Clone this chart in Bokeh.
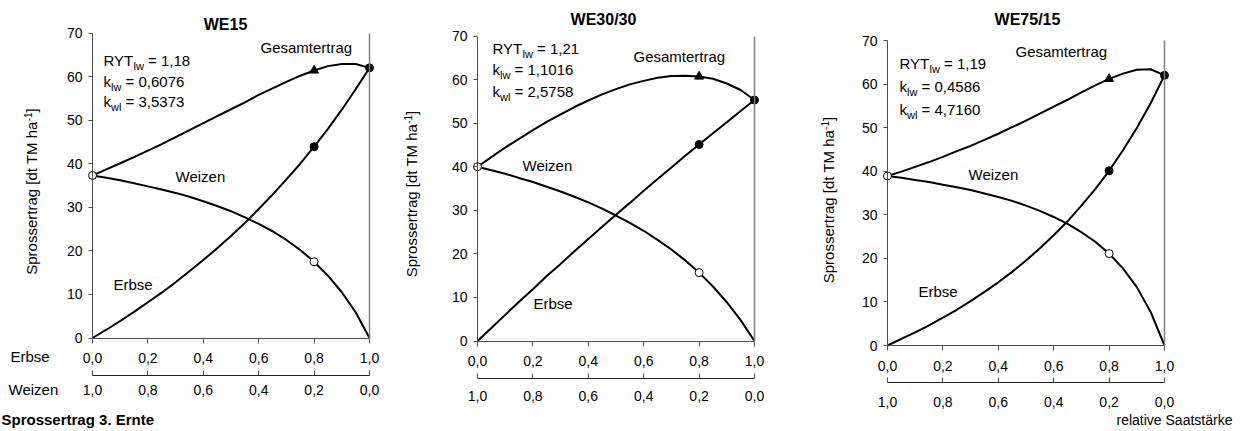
import math
from bokeh.plotting import figure
from bokeh.layouts import row
from bokeh.models import Range1d, LinearAxis, FixedTicker, CustomJSTickFormatter, Label
from bokeh.embed import file_html
from bokeh.resources import INLINE

# ---------------- data ----------------
saat_erbse = [0.0, 0.05, 0.1, 0.15, 0.2, 0.25, 0.3, 0.35, 0.4, 0.45, 0.5,
              0.55, 0.6, 0.65, 0.7, 0.75, 0.8, 0.85, 0.9, 0.95, 1.0]
x_tick_values = [0.0, 0.2, 0.4, 0.6, 0.8, 1.0]
y_tick_values = [0, 10, 20, 30, 40, 50, 60, 70]

we15_erbse = [0.0, 1.9, 3.9, 6.0, 8.2, 10.4, 12.8, 15.3, 17.9, 20.6, 23.4,
              26.4, 29.6, 32.9, 36.4, 40.0, 43.9, 48.0, 52.4, 57.1, 62.0]
we15_weizen = [37.3, 36.8, 36.2, 35.5, 34.8, 34.1, 33.3, 32.4, 31.4, 30.3, 29.1,
               27.7, 26.2, 24.5, 22.5, 20.2, 17.5, 14.3, 10.5, 5.9, 0.0]
we15_gesamt = [37.3, 38.7, 40.1, 41.5, 43.0, 44.5, 46.1, 47.7, 49.3, 50.9, 52.5,
               54.1, 55.8, 57.3, 58.8, 60.2, 61.4, 62.4, 62.9, 62.9, 62.0]

we3030_erbse = [0.0, 3.0, 6.0, 9.0, 11.9, 14.9, 17.7, 20.6, 23.4, 26.2, 29.0,
                31.7, 34.5, 37.2, 39.8, 42.5, 45.1, 47.7, 50.2, 52.8, 55.3]
we3030_weizen = [40.0, 39.2, 38.4, 37.4, 36.5, 35.4, 34.3, 33.1, 31.8, 30.4, 28.8,
                 27.1, 25.3, 23.2, 21.0, 18.5, 15.7, 12.5, 8.9, 4.8, 0.0]
we3030_gesamt = [40.0, 42.2, 44.4, 46.4, 48.4, 50.3, 52.0, 53.7, 55.2, 56.6, 57.8,
                 58.9, 59.7, 60.4, 60.8, 60.9, 60.7, 60.2, 59.1, 57.6, 55.3]

we7515_erbse = [0.0, 1.5, 3.0, 4.6, 6.4, 8.2, 10.2, 12.3, 14.5, 16.9, 19.5,
                22.3, 25.3, 28.5, 32.1, 35.9, 40.1, 44.8, 49.9, 55.6, 62.0]
we7515_weizen = [38.9, 38.5, 38.0, 37.5, 36.9, 36.3, 35.7, 34.9, 34.1, 33.2, 32.1,
                 30.9, 29.5, 27.9, 26.0, 23.8, 21.1, 17.7, 13.4, 7.7, 0.0]
we7515_gesamt = [38.9, 39.9, 41.0, 42.1, 43.3, 44.6, 45.8, 47.2, 48.6, 50.1, 51.6,
                 53.2, 54.8, 56.4, 58.1, 59.7, 61.2, 62.4, 63.3, 63.4, 62.0]

panel_titles = ["WE15", "WE30/30", "WE75/15"]
ryt_values = ["1,18", "1,21", "1,19"]
k_lw_values = ["0,6076", "1,1016", "0,4586"]
k_wl_values = ["3,5373", "2,5758", "4,7160"]

# indices of the measured points (marked with symbols)
weizen_points = [0, 16]
erbse_points = [16, 20]
gesamt_points = [16]

# ---------------- styling / layout ----------------
FONT = "Liberation Sans"
H = 431
SX = 277.0          # px per unit of relative seed rate
SY = 305.0 / 70.0   # px per dt/ha
GAP2 = 37.0         # px between the two x axes
AXC = "#4d4d4d"
BL = 0.4            # empirical baseline correction (fraction of font size)

ARIAL = {' ': 278, '=': 584, ',': 278, '.': 278, '-': 333, 'R': 722, 'Y': 667, 'T': 611,
         'k': 500, 'l': 222, 'w': 722, 'S': 667, 'p': 556, 'r': 333, 'o': 556, 's': 500,
         'e': 556, 't': 278, 'a': 556, 'g': 556, '[': 278, ']': 278, 'd': 556, 'M': 833,
         'h': 556}


def tw(s, size):
    return sum(ARIAL.get(c, 556) for c in s) / 1000.0 * size


def lab(p, geo, gx, gy, text, size, bold=False, align="left", angle=0.0):
    x0, y0 = geo
    if angle == 0.0:
        gy = gy - BL * size
    else:
        gx = gx - BL * size
    p.add_layout(Label(x=(gx - x0) / SX, y=(y0 - gy) / SY, text=text, text_font=FONT,
                       text_font_size=f"{size}px", text_font_style="bold" if bold else "normal",
                       text_align=align, text_baseline="alphabetic", angle=angle,
                       text_color="black"))


def sub_text(p, geo, gx, gy, main, sub, rest, size=15, subsize=11):
    lab(p, geo, gx, gy, main, size)
    w1 = tw(main, size)
    lab(p, geo, gx + w1, gy + 4, sub, subsize)
    w2 = tw(sub, subsize)
    lab(p, geo, gx + w1 + w2 + tw(" ", size), gy, rest, size)


def y_title(p, geo, cx, cy, size=15, supsize=10):
    main, sup, close = "Sprossertrag [dt TM ha", "-1", "]"
    wm, ws, wc = tw(main, size), tw(sup, supsize), tw(close, size)
    total = wm + ws + wc
    xb = cx + 0.716 * size / 2
    ys = cy + total / 2
    lab(p, geo, xb, ys, main, size, angle=math.pi / 2)
    lab(p, geo, xb - 6, ys - wm, sup, supsize, angle=math.pi / 2)
    lab(p, geo, xb, ys - wm - ws, close, size, angle=math.pi / 2)


fmt_code = "return tick.toFixed(1).replace('.', ',');"


def style_axis(ax, tick_out, tick_in, standoff, line_color=AXC):
    ax.axis_line_color = line_color
    ax.axis_line_width = 1
    ax.major_tick_line_color = AXC
    ax.major_tick_out = tick_out
    ax.major_tick_in = tick_in
    ax.minor_tick_out = 0
    ax.minor_tick_in = 0
    ax.major_label_text_font = FONT
    ax.major_label_text_font_size = "14px"
    ax.major_label_text_color = "black"
    ax.major_label_standoff = standoff


def make_panel(i, erbse, weizen, gesamt, fig_left, fig_width, x0px, y0px, txt, std2):
    # x0px / y0px: page pixel of the data origin (x=0, y=0)
    lx = x0px - fig_left
    x_start = -lx / SX
    x_end = (fig_width - lx) / SX
    y_start = -(H - y0px) / SY
    y_end = y0px / SY
    geo = (x0px, y0px)
    p = figure(frame_width=fig_width, frame_height=H,
               x_range=Range1d(x_start, x_end), y_range=Range1d(y_start, y_end),
               x_axis_type=None, y_axis_type=None,
               output_backend="svg", toolbar_location=None,
               min_border=0, min_border_left=0, min_border_right=0,
               min_border_top=0, min_border_bottom=0)
    p.outline_line_color = None
    p.background_fill_color = "white"
    p.border_fill_color = "white"
    p.extra_x_ranges = {"w": Range1d(1 - x_start, 1 - x_end)}

    yax = LinearAxis(ticker=FixedTicker(ticks=y_tick_values), fixed_location=0, bounds=(0, 70))
    style_axis(yax, 4, 0, 6)
    p.add_layout(yax, "left")

    # vertical frame line at x = 1 (axis without ticks)
    rax = LinearAxis(ticker=FixedTicker(ticks=[]), fixed_location=1, bounds=(0, 70))
    style_axis(rax, 0, 0, 0, line_color="#808080")
    rax.axis_line_width = 1.5
    rax.major_label_text_font_size = "0px"
    p.add_layout(rax, "right")

    xax = LinearAxis(ticker=FixedTicker(ticks=x_tick_values),
                     formatter=CustomJSTickFormatter(code=fmt_code), bounds=(0, 1),
                     fixed_location=0)
    style_axis(xax, 5, 0, 10)
    p.add_layout(xax, "below")

    xax2 = LinearAxis(x_range_name="w", ticker=FixedTicker(ticks=x_tick_values),
                      formatter=CustomJSTickFormatter(code=fmt_code), bounds=(0, 1),
                      fixed_location=-GAP2 / SY)
    style_axis(xax2, 0, 5, std2, line_color="#222222")
    p.add_layout(xax2, "below")

    for ys in (erbse, weizen, gesamt):
        p.line(saat_erbse, ys, line_color="black", line_width=2)

    p.scatter([saat_erbse[k] for k in gesamt_points], [gesamt[k] for k in gesamt_points],
              marker="triangle", size=9, fill_color="black", line_color="black")
    p.scatter([saat_erbse[k] for k in erbse_points], [erbse[k] for k in erbse_points],
              marker="circle", size=8, fill_color="black", line_color="black")
    p.scatter([saat_erbse[k] for k in weizen_points], [weizen[k] for k in weizen_points],
              marker="circle", size=8, fill_color="white", line_color="black", line_width=1)

    lab(p, geo, txt["title"][0], txt["title"][1], panel_titles[i], 16, bold=True, align="center")
    ax, b1, b2, b3 = txt["ann"]
    sub_text(p, geo, ax, b1, "RYT", "lw", "= " + ryt_values[i])
    sub_text(p, geo, ax, b2, "k", "lw", "= " + k_lw_values[i])
    sub_text(p, geo, ax, b3, "k", "wl", "= " + k_wl_values[i])
    lab(p, geo, txt["gesamt"][0], txt["gesamt"][1], "Gesamtertrag", 15)
    lab(p, geo, txt["weizen"][0], txt["weizen"][1], "Weizen", 15)
    lab(p, geo, txt["erbse"][0], txt["erbse"][1], "Erbse", 15)
    y_title(p, geo, txt["ytitle"][0], txt["ytitle"][1])
    return p, geo


p1, g1 = make_panel(0, we15_erbse, we15_weizen, we15_gesamt, 0, 390, 92, 337.5,
                    {"title": (225, 30.5), "ann": (103, 66, 86.5, 106.5),
                     "gesamt": (260, 52.7), "weizen": (175, 182), "erbse": (113, 290),
                     "ytitle": (32, 191)}, 10)
lab(p1, g1, 10, 362, "Erbse", 15)
lab(p1, g1, 8, 395, "Weizen", 15)
lab(p1, g1, 1, 425, "Sprossertrag 3. Ernte", 15, bold=True)

p2, g2 = make_panel(1, we3030_erbse, we3030_weizen, we3030_gesamt, 390, 410, 477, 340.5,
                    {"title": (603, 25), "ann": (492, 53.5, 75, 96.5),
                     "gesamt": (633, 61.7), "weizen": (522, 170.7), "erbse": (533, 309),
                     "ytitle": (412, 193.5)}, 13)

p3, g3 = make_panel(2, we7515_erbse, we7515_weizen, we7515_gesamt, 800, 455, 887, 345,
                    {"title": (1027, 25), "ann": (899, 69.3, 92, 115),
                     "gesamt": (1015, 57.3), "weizen": (968, 180), "erbse": (918, 297),
                     "ytitle": (829, 199.5)}, 14)
lab(p3, g3, 1116, 425, "relative Saatstärke", 14)

layout = row(p1, p2, p3)
open("out.html", "w").write(file_html(layout, INLINE))
